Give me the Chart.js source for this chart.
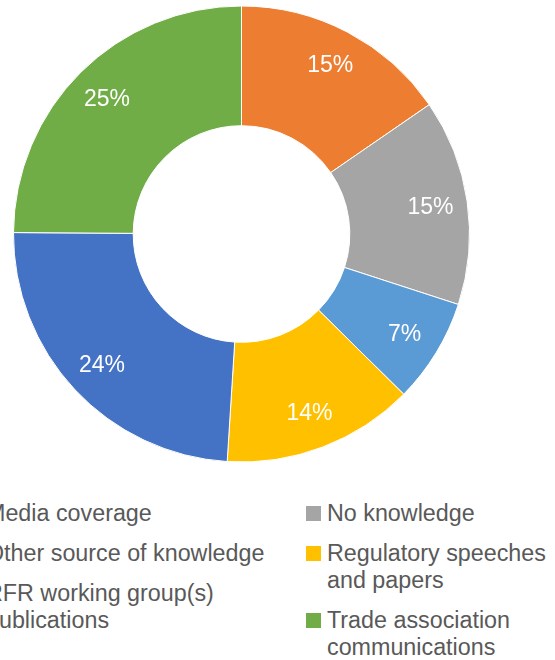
<!DOCTYPE html>
<html>
<head>
<meta charset="utf-8">
<script src="https://cdn.jsdelivr.net/npm/chart.js@4"></script>
<style>
  html, body { margin: 0; padding: 0; background: #fff; overflow: hidden; }
  body { width: 555px; height: 660px; position: relative; font-family: "Liberation Sans", Arial, sans-serif; }
  #wrap { position: absolute; left: 0; top: 0; width: 483px; height: 468px; }
  .col { position: absolute; top: 500px; display: flex; flex-direction: column; gap: 13px; }
  .item { position: relative; padding-left: 21px; font-size: 23.3px; line-height: 27px; color: #595959; white-space: normal; }
  .sw { position: absolute; left: 0; top: 6px; width: 15px; height: 15px; }
</style>
</head>
<body>
<div id="wrap"><canvas id="c"></canvas></div>
<div class="col" id="colL" style="left:-35px; width:310px;"></div>
<div class="col" id="colR" style="left:306px; width:249px;"></div>
<script>
const categories = ["Media coverage", "No knowledge", "Other source of knowledge", "Regulatory speeches and papers", "RFR working group(s) publications", "Trade association communications"];
const shares = [15.4, 14.6, 7.4, 13.6, 24.1, 24.9];
const colors = ["#ED7D31", "#A5A5A5", "#5B9BD5", "#FFC000", "#4472C4", "#70AD47"];

const labelPlugin = {
  id: 'sliceLabels',
  afterDatasetsDraw(chart) {
    const ctx = chart.ctx;
    const meta = chart.getDatasetMeta(0);
    ctx.save();
    ctx.fillStyle = '#ffffff';
    ctx.font = '23px "Liberation Sans", Arial, sans-serif';
    ctx.textAlign = 'center';
    ctx.textBaseline = 'middle';
    meta.data.forEach((arc, i) => {
      const p = arc.getProps(['x','y','startAngle','endAngle','innerRadius','outerRadius'], true);
      const mid = (p.startAngle + p.endAngle) / 2;
      const r = p.innerRadius + 0.69 * (p.outerRadius - p.innerRadius);
      ctx.fillText(Math.round(shares[i]) + '%', p.x + Math.cos(mid) * r, p.y + Math.sin(mid) * r + 1);
    });
    ctx.restore();
  }
};

new Chart(document.getElementById('c'), {
  type: 'doughnut',
  data: {
    labels: categories,
    datasets: [{ data: shares, backgroundColor: colors, borderColor: '#ffffff', borderWidth: 1 }]
  },
  options: {
    responsive: true,
    maintainAspectRatio: false,
    animation: false,
    radius: 228,
    cutout: '47.5%',
    layout: { padding: 0 },
    plugins: { legend: { display: false }, tooltip: { enabled: false } }
  },
  plugins: [labelPlugin]
});

const colL = document.getElementById('colL');
const colR = document.getElementById('colR');
categories.forEach((name, i) => {
  const d = document.createElement('div');
  d.className = 'item';
  const s = document.createElement('span');
  s.className = 'sw';
  s.style.background = colors[i];
  d.appendChild(s);
  d.appendChild(document.createTextNode(name));
  (i % 2 === 0 ? colL : colR).appendChild(d);
});
</script>
</body>
</html>
